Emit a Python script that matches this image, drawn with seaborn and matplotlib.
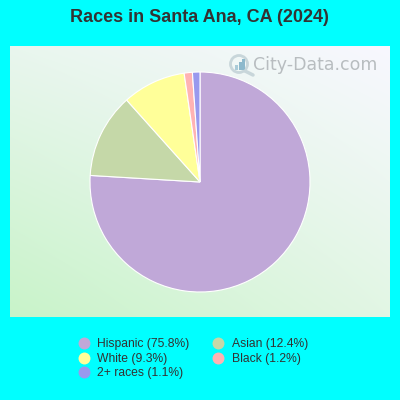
"""Races in Santa Ana pie chart, City-Data style."""
import numpy as np
import matplotlib
matplotlib.use("Agg")
import matplotlib.pyplot as plt
import matplotlib.colors as mcolors
from matplotlib.lines import Line2D
from matplotlib.patches import Circle, Rectangle
import seaborn as sns

sns.set_style("white")
plt.rcParams['font.family'] = ['Liberation Sans', 'DejaVu Sans']

# ── data ─────────────────────────────────────────────────────────────────────
RACES = ["Hispanic", "Asian", "White", "Black", "2+ races"]
SHARES = [75.8, 12.4, 9.3, 1.2, 1.1]
COLORS = ["#c0a8d8", "#c5d8a8", "#ffff99", "#ffb3b3", "#9999ee"]
LEGEND_ORDER = ["Hispanic", "White", "2+ races", "Asian", "Black"]
TITLE = "Races in Santa Ana, CA (2024)"

TEXT_COL = "#333333"
palette = dict(zip(RACES, sns.color_palette(COLORS)))
shares = dict(zip(RACES, SHARES))

fig = plt.figure(figsize=(4, 4), dpi=100, facecolor="#00ffff")


def px_axes(left, top, right, bottom):
    return fig.add_axes([left / 400, 1 - bottom / 400, (right - left) / 400, (bottom - top) / 400])


# ── panel gradient ───────────────────────────────────────────────────────────
bg = px_axes(10, 46, 390, 317)
tl, tr = np.array(mcolors.to_rgb("#e9f6ee")), np.array(mcolors.to_rgb("#f8f8ff"))
bl, br = np.array(mcolors.to_rgb("#c8f3c9")), np.array(mcolors.to_rgb("#e2f6e4"))
u = np.linspace(0, 1, 380)[None, :, None]
v = np.linspace(0, 1, 271)[:, None, None]
bg.imshow((1 - v) * ((1 - u) * tl + u * tr) + v * ((1 - u) * bl + u * br), aspect="auto")
bg.axis("off")

# ── watermark ────────────────────────────────────────────────────────────────
over = px_axes(0, 0, 400, 400)
over.set_xlim(0, 400)
over.set_ylim(400, 0)
over.axis("off")
over.patch.set_alpha(0)
over.text(253, 64.5, "City-Data.com", fontsize=12.5, color="#b8bdc0",
          ha="left", va="center", family="DejaVu Sans")
over.add_patch(Circle((239, 64), 8.5, fill=False, ec="#c8d6da", lw=2))
over.plot([245, 253], [71, 75], color="#c8d6da", lw=2.5, solid_capstyle="round")
for bx, bh, bc in [(235, 5, "#a9cbd8"), (238.5, 8, "#8db9cc"), (242, 11, "#8db9cc")]:
    over.add_patch(Rectangle((bx, 70 - bh), 3, bh, color=bc, lw=0))

# ── pie ──────────────────────────────────────────────────────────────────────
ax = px_axes(90, 72, 310, 292)
ax.pie(SHARES, colors=[palette[r] for r in RACES], startangle=90, counterclock=False,
       wedgeprops={"edgecolor": "white", "linewidth": 0.8})
ax.set_xlim(-1, 1)
ax.set_ylim(-1, 1)
ax.patch.set_alpha(0)

# ── title and legend ─────────────────────────────────────────────────────────
fig.text(0.4975, 1 - 18 / 400, TITLE, ha="center", va="center", fontsize=13,
         fontweight="bold", color=TEXT_COL)

handles = [Line2D([], [], ls="", marker="o", ms=8.6, mfc=palette[r], mec="none",
                  label=f"{r} ({shares[r]}%)") for r in LEGEND_ORDER]
fig.legend(handles=handles, ncol=2, loc="upper left", bbox_to_anchor=(68 / 400, 1 - 334.5 / 400),
           frameon=False, fontsize=8.7, labelcolor=TEXT_COL, handletextpad=0.1,
           columnspacing=1.4, labelspacing=0.22, borderpad=0.3, borderaxespad=0)

fig.savefig("out.png", dpi=100, facecolor=fig.get_facecolor())
